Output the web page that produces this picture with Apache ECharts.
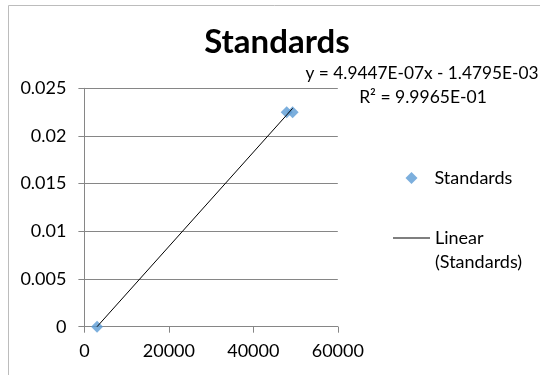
<!DOCTYPE html>
<html>
<head>
<meta charset="utf-8">
<script src="https://cdn.jsdelivr.net/npm/echarts@6/dist/echarts.min.js"></script>
<style>html,body{margin:0;padding:0;background:#fff}#c{width:540px;height:375px}</style>
</head>
<body>
<div id="c"></div>
<script>
// Data
var xValues = [3000, 47900, 49300];
var yValues = [0, 0.0225, 0.0225];
var trendSlope = 4.9447e-7;
var trendIntercept = -1.4795e-3;
var rSquared = '9.9965E-01';
var xTicks = [0, 20000, 40000, 60000];
var yTicks = [0, 0.005, 0.01, 0.015, 0.02, 0.025];

var FONT = 'Lato';
var points = xValues.map(function (x, i) { return [x, yValues[i]]; });
var xMin = Math.min.apply(null, xValues), xMax = Math.max.apply(null, xValues);
var trend = [xMin, xMax].map(function (x) { return [x, trendSlope * x + trendIntercept]; });
function excelExp(v) { return Math.abs(v).toExponential(4).toUpperCase().replace(/E([+-])(\d)$/, 'E$10$2'); }
var eqText = 'y = ' + excelExp(trendSlope) + 'x ' + (trendIntercept < 0 ? '- ' : '+ ') + excelExp(trendIntercept);

var chart = echarts.init(document.getElementById('c'), null, {renderer: 'canvas'});
chart.setOption({
  animation: false,
  backgroundColor: '#fff',
  title: {
    text: 'Standards', left: 277, top: 26, textAlign: 'center', padding: 0,
    textStyle: {fontFamily: FONT, fontWeight: 'bold', fontSize: 33, color: '#000'}
  },
  grid: {left: 84.4, top: 88.3, right: 202.2, bottom: 48.3, containLabel: false, outerBoundsMode: 'none'},
  xAxis: {
    type: 'value', min: xTicks[0], max: xTicks[xTicks.length - 1], interval: xTicks[1] - xTicks[0],
    axisLine: {show: true, onZero: false, lineStyle: {color: '#868686', width: 1}},
    axisTick: {show: true, length: 6, lineStyle: {color: '#868686'}},
    splitLine: {show: false},
    axisLabel: {color: '#000', fontFamily: FONT, fontSize: 18, margin: 15,
      formatter: function (v) { return String(v); }}
  },
  yAxis: {
    type: 'value', min: yTicks[0], max: yTicks[yTicks.length - 1], interval: yTicks[1] - yTicks[0],
    axisLine: {show: true, lineStyle: {color: '#868686', width: 1}},
    axisTick: {show: true, length: 6, lineStyle: {color: '#868686'}},
    splitLine: {show: true, lineStyle: {color: '#868686', width: 1}},
    axisLabel: {color: '#000', fontFamily: FONT, fontSize: 18, margin: 18,
      formatter: function (v) { return String(+v.toFixed(3)); }}
  },
  legend: [{
    orient: 'vertical', left: 405.5, top: 169, padding: 0, itemWidth: 12, itemHeight: 12,
    textStyle: {fontFamily: FONT, fontSize: 18, color: '#000', padding: [0, 0, 0, 12]},
    data: [{name: 'Standards', icon: 'diamond'}]
  }, {
    orient: 'vertical', left: 393, top: 202, padding: 0, itemWidth: 37, itemHeight: 1,
    textStyle: {fontFamily: FONT, fontSize: 18, color: '#000', lineHeight: 24},
    data: [{name: 'Linear (Standards)', icon: 'rect', itemStyle: {color: '#000'}}],
    formatter: function () { return '\u00a0\nLinear\n(Standards)'; }
  }],
  graphic: [
    {type: 'rect', silent: true, shape: {x: 8.5, y: 5.5, width: 700, height: 500},
     style: {fill: 'none', stroke: '#bcbcbc', lineWidth: 1}, z: -10},
    {type: 'text', silent: true,
     style: {text: eqText, x: 422, y: 73, align: 'center', verticalAlign: 'middle',
       fontFamily: FONT, fontSize: 17.3, fill: '#000'}},
    {type: 'text', silent: true,
     style: {text: 'R² = ' + rSquared, x: 423, y: 97, align: 'center', verticalAlign: 'middle',
       fontFamily: FONT, fontSize: 17.5, fill: '#000'}}
  ],
  series: [{
    name: 'Standards', type: 'scatter', data: points, symbol: 'diamond', symbolSize: 12,
    itemStyle: {color: '#5B9BD5'}, z: 2
  }, {
    name: 'Linear (Standards)', type: 'line', data: trend, symbol: 'none',
    lineStyle: {color: '#000', width: 1}, itemStyle: {color: '#000'}, z: 3
  }]
});
</script>
</body>
</html>
